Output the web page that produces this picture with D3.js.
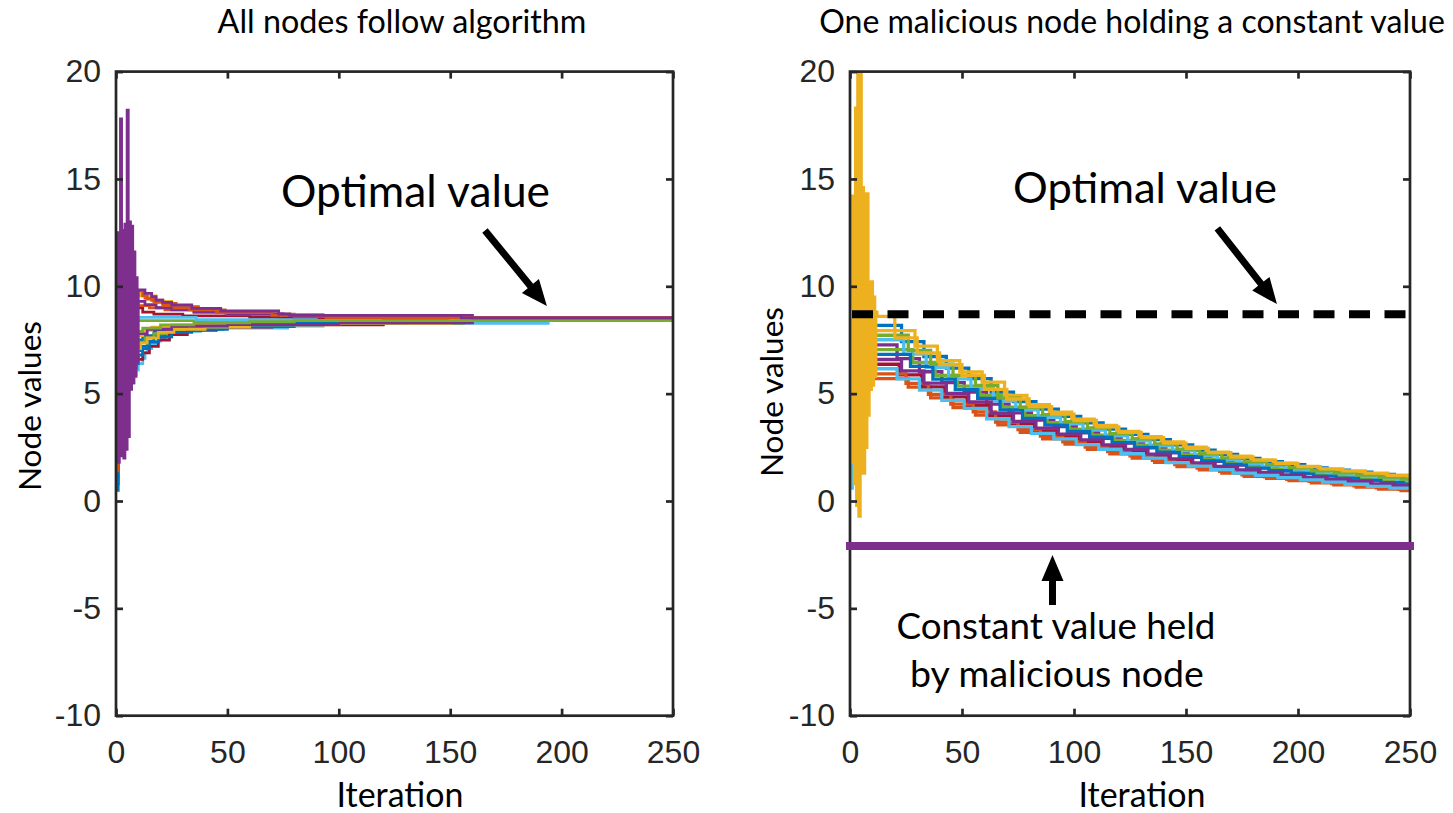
<!DOCTYPE html>
<html>
<head>
<meta charset="utf-8">
<script src="https://cdn.jsdelivr.net/npm/d3@7"></script>
<style>
  body { margin: 0; background: #fff; }
  svg { display: block; }
</style>
</head>
<body>
<svg width="1453" height="813"></svg>
<script>
// MATLAB default colour order, node i gets colorOrder[i % 7]
var colorOrder = ["#0072BD", "#D95319", "#EDB120", "#7E2F8E", "#77AC30", "#4DBEEE", "#A2142F"];
var xTicks = [0, 50, 100, 150, 200, 250];
var yTicks = [-10, -5, 0, 5, 10, 15, 20];
var optimalValue = 8.7;
var maliciousValue = -2.1;

// left panel: stair breakpoints [iteration, value] for each node
var leftNodes = [
  [[0,0.5],[1,7.2],[9,7.5],[12,7.7],[17,7.9],[25,8.05],[40,8.15],[60,8.28],[114,8.4]],
  [[0,1.1],[1,9.6],[13,9.45],[16,9.35],[21,9.2],[27,9.05],[37,8.9],[49,8.75],[60,8.68],[93,8.53]],
  [[0,1.9],[1,9.7],[11,9.55],[18,9.3],[25,9.1],[33,8.95],[45,8.8],[58,8.7],[70,8.65],[142,8.53]],
  [[0,2.3],[0.5,12.5],[1,1.8],[1.5,12.4],[2,17.8],[2.5,2.1],[3,12.6],[3.5,2.0],[4,12.9],[4.5,2.4],[5,18.2],[5.5,3.0],[6,13.0],[6.5,5.2],[7,12.8],[7.5,5.5],[8,11.6],[8.5,5.8],[9,10.4],[9.5,6.5],[10,9.83],[13,9.67],[16,9.52],[18,9.36],[21,9.25],[25,9.13],[34,8.97],[47,8.85],[73,8.71],[78,8.65],[155,8.53]],
  [[0,3.0],[1,8.4],[8,8.4]],
  [[0,3.4],[1,5.9],[9,6.1],[10,6.4],[12,6.65],[13,6.9],[14,7.1],[16,7.3],[18,7.45],[20,7.55],[22,7.65],[25,7.77],[31,7.9],[38,7.98],[48,8.05],[77,8.15],[93,8.28],[194,8.4]],
  [[0,4.2],[1,9.0],[12,8.8],[17,8.7],[30,8.62],[60,8.55],[73,8.53],[93,8.4]],
  [[0,3.8],[1,6.6],[9,7.0],[11,7.2],[14,7.45],[17,7.65],[22,7.85],[30,8.0],[45,8.15],[73,8.28],[114,8.4]],
  [[0,4.8],[1,9.2],[10,9.1],[15,9.0],[22,8.9],[35,8.8],[50,8.7],[80,8.6],[120,8.53]],
  [[0,5.5],[1,7.4],[9,7.7],[12,7.95],[16,8.1],[25,8.2],[42,8.28],[80,8.4]],
  [[0,2.5],[1,9.3],[13,9.15],[18,9.0],[25,8.9],[35,8.8],[50,8.72],[75,8.65],[160,8.53]],
  [[0,2.8],[1,7.0],[10,7.4],[13,7.6],[17,7.8],[23,7.95],[33,8.05],[50,8.15],[77,8.28],[156,8.4]],
  [[0,8.1],[1,8.0],[8,8.55],[36,8.45],[90,8.4]],
  [[0,4.1],[1,6.2],[9,6.6],[12,6.9],[15,7.2],[19,7.5],[24,7.75],[32,7.95],[45,8.1],[70,8.2],[120,8.4]],
  [[0,0.8],[1,5.5],[8,6.4],[10,6.8],[12,7.1],[15,7.4],[19,7.65],[25,7.85],[34,8.0],[50,8.12],[80,8.28],[130,8.4]],
  [[0,1.4],[1,9.8],[12,9.55],[14,9.4],[17,9.25],[21,9.1],[26,9.0],[33,8.9],[45,8.78],[70,8.65],[150,8.53]],
  [[0,6.0],[1,6.8],[8,7.1],[11,7.35],[14,7.6],[19,7.85],[26,8.0],[40,8.1],[60,8.2],[100,8.28],[150,8.4]],
  [[0,2.2],[1,7.6],[9,7.8],[14,8.0],[25,8.15],[50,8.22],[100,8.3],[160,8.4]],
  [[0,7.2],[1,7.8],[8,7.9],[12,8.05],[20,8.2],[35,8.3],[60,8.35],[80,8.4]]
];
var leftSpike = 3;

// right panel: value at iteration 0, update offset, then values every 10 iterations
var bandIters = [10,20,30,40,50,60,70,80,90,100,110,120,130,140,150,160,170,180,190,200,210,220,230,240,250];
var rightInit = [1.2, 10.0, 6.5, 8.3, 3.0, 9.0, 9.5, 4.5, 2.0, 7.5, 3.8, 5.5, 0.6];
var rightPhase = [3, 6, 0, 1, 8, 4, 2, 7, 5, 9, 3, 6, 1];
var rightBand = [
  [8.18,7.42,6.73,6.19,5.70,5.07,4.63,4.28,3.94,3.64,3.35,3.10,2.86,2.61,2.37,2.17,1.98,1.83,1.69,1.54,1.44,1.34,1.24,1.14,1.04],
  [5.70,5.30,4.80,4.35,4.00,3.55,3.20,2.90,2.65,2.40,2.20,2.00,1.80,1.60,1.45,1.30,1.15,1.05,0.95,0.85,0.75,0.65,0.55,0.48,0.40],
  [8.40,7.60,6.90,6.35,5.85,5.20,4.75,4.40,4.05,3.75,3.45,3.20,2.95,2.70,2.45,2.25,2.05,1.90,1.75,1.60,1.50,1.40,1.30,1.20,1.10],
  [7.27,6.63,6.02,5.51,5.07,4.51,4.10,3.77,3.46,3.18,2.92,2.70,2.47,2.24,2.03,1.85,1.67,1.54,1.41,1.28,1.18,1.08,0.98,0.90,0.81],
  [7.05,6.45,5.85,5.35,4.92,4.37,3.97,3.65,3.35,3.07,2.82,2.60,2.37,2.15,1.95,1.77,1.60,1.47,1.35,1.22,1.12,1.02,0.92,0.84,0.75],
  [7.51,6.84,6.21,5.69,5.24,4.66,4.24,3.90,3.59,3.30,3.04,2.80,2.57,2.34,2.12,1.94,1.75,1.62,1.49,1.35,1.25,1.15,1.05,0.96,0.87],
  [6.37,5.87,5.32,4.85,4.46,3.96,3.59,3.27,3.00,2.74,2.51,2.30,2.09,1.87,1.70,1.54,1.37,1.26,1.15,1.04,0.94,0.84,0.74,0.66,0.57],
  [6.83,6.27,5.68,5.19,4.78,4.24,3.85,3.53,3.24,2.97,2.72,2.50,2.28,2.06,1.87,1.70,1.53,1.41,1.29,1.16,1.06,0.96,0.86,0.78,0.69],
  [5.92,5.48,4.97,4.51,4.15,3.68,3.32,3.02,2.76,2.51,2.30,2.10,1.89,1.69,1.53,1.38,1.22,1.12,1.01,0.91,0.81,0.71,0.61,0.54,0.46],
  [7.94,7.21,6.54,6.01,5.54,4.92,4.49,4.14,3.81,3.52,3.24,3.00,2.75,2.51,2.28,2.09,1.90,1.76,1.61,1.47,1.37,1.27,1.17,1.08,0.98],
  [6.59,6.06,5.49,5.01,4.61,4.09,3.71,3.39,3.11,2.85,2.61,2.40,2.18,1.96,1.78,1.61,1.45,1.33,1.21,1.10,1.00,0.90,0.80,0.72,0.63],
  [7.72,7.02,6.37,5.85,5.39,4.79,4.36,4.02,3.70,3.41,3.14,2.90,2.66,2.42,2.20,2.01,1.82,1.69,1.55,1.41,1.31,1.21,1.11,1.02,0.92],
  [6.16,5.69,5.16,4.69,4.31,3.83,3.46,3.15,2.89,2.63,2.41,2.20,2.00,1.79,1.62,1.46,1.30,1.19,1.09,0.98,0.88,0.78,0.68,0.60,0.52]
];
var rightSpike = 2;
var rightSpikeEarly = [[0,6.5],[0.5,14.2],[1,1.8],[1.5,14.2],[2,0.8],[2.5,18.3],[3,-0.2],[3.5,20.6],[4,-0.7],[4.5,20.6],[5,1.3],[5.5,14.6],[6,1.3],[6.5,14.3],[7,2.5],[7.5,14.3],[8,4.0],[8.5,10.2],[9,5.2],[9.5,10.2],[10,5.4],[10.5,9.5],[11,5.8],[11.5,8.8],[12,8.6]];

var svg = d3.select("svg"),
    axTop = 71.6,
    axBottom = 715.7,
    ink = "#262626",
    textFont = "Lato, 'Open Sans', sans-serif";

var xL = d3.scaleLinear().domain([0, 250]).range([116, 673]),
    xR = d3.scaleLinear().domain([0, 250]).range([850, 1410]),
    y = d3.scaleLinear().domain([-10, 20]).range([axBottom, axTop]);

function fitText(sel, width) {
  var w = sel.node().getComputedTextLength();
  var fs = parseFloat(sel.attr("font-size"));
  sel.attr("font-size", fs * width / w);
  return sel;
}

function addText(g, str, x, yy, size, width) {
  var t = g.append("text")
    .attr("x", x).attr("y", yy)
    .attr("text-anchor", "middle")
    .attr("font-family", textFont)
    .attr("font-size", size)
    .attr("fill", "#000")
    .text(str);
  if (width) fitText(t, width);
  return t;
}

function arrow(g, x1, y1, x2, y2) {
  var dx = x2 - x1, dy = y2 - y1, len = Math.sqrt(dx * dx + dy * dy);
  var ux = dx / len, uy = dy / len, px = -uy, py = ux;
  var hl = 26, hw = 11, sw = 3.5;
  var bx = x2 - ux * hl, by = y2 - uy * hl;
  var pts = [
    [x1 + px * sw, y1 + py * sw], [bx + px * sw, by + py * sw], [bx + px * hw, by + py * hw], [x2, y2],
    [bx - px * hw, by - py * hw], [bx - px * sw, by - py * sw], [x1 - px * sw, y1 - py * sw]
  ];
  g.append("path").attr("d", "M" + pts.join("L") + "Z").attr("fill", "#000");
}

function drawAxes(g, x) {
  var fmt = function(d) { return String(d); };
  var styleAxis = function(a) {
    a.select(".domain").remove();
    a.selectAll(".tick line").attr("stroke", ink).attr("stroke-width", 2.7);
    a.selectAll(".tick text").attr("fill", ink)
      .attr("font-family", "'Liberation Sans', Arial, sans-serif")
      .attr("font-size", 32);
  };
  g.append("g").attr("transform", "translate(0," + axBottom + ")")
    .call(d3.axisBottom(x).tickValues(xTicks).tickSizeInner(-7).tickSizeOuter(0).tickPadding(25).tickFormat(fmt))
    .call(styleAxis);
  g.append("g").attr("transform", "translate(0," + axTop + ")")
    .call(d3.axisTop(x).tickValues(xTicks).tickSizeInner(-7).tickSizeOuter(0).tickFormat(""))
    .call(styleAxis);
  g.append("g").attr("transform", "translate(" + x(0) + ",0)")
    .call(d3.axisLeft(y).tickValues(yTicks).tickSizeInner(-7).tickSizeOuter(0).tickPadding(15).tickFormat(fmt))
    .call(styleAxis);
  g.append("g").attr("transform", "translate(" + x(250) + ",0)")
    .call(d3.axisRight(y).tickValues(yTicks).tickSizeInner(-7).tickSizeOuter(0).tickFormat(""))
    .call(styleAxis);
  g.append("rect")
    .attr("x", x(0)).attr("y", axTop)
    .attr("width", x(250) - x(0)).attr("height", axBottom - axTop)
    .attr("fill", "none").attr("stroke", ink).attr("stroke-width", 2.7);
}

function drawNodes(g, x, series, spike, clipId, width) {
  g.append("clipPath").attr("id", clipId).append("rect")
    .attr("x", x(0)).attr("y", axTop)
    .attr("width", x(250) - x(0)).attr("height", axBottom - axTop);
  var line = d3.line()
    .x(function(d) { return x(d[0]); })
    .y(function(d) { return y(d[1]); })
    .curve(d3.curveStepAfter);
  var order = d3.range(series.length).filter(function(i) { return i !== spike; }).concat([spike]);
  var lg = g.append("g").attr("clip-path", "url(#" + clipId + ")");
  order.forEach(function(i) {
    var pts = series[i].slice();
    pts.push([250, pts[pts.length - 1][1]]);
    lg.append("path")
      .attr("d", line(pts))
      .attr("fill", "none")
      .attr("stroke", colorOrder[i % 7])
      .attr("stroke-width", width);
  });
}

// build the right-panel stairs from the sampled values
var rightSeries = rightBand.map(function(vals, i) {
  var pts;
  if (i === rightSpike) {
    pts = rightSpikeEarly.slice();
  } else {
    pts = [[0, rightInit[i]], [1, vals[0]]];
  }
  var lastIt = pts[pts.length - 1][0];
  for (var k = 1; k < vals.length; k++) {
    var it = bandIters[k] + rightPhase[i];
    if (it > lastIt) pts.push([it, vals[k]]);
  }
  return pts;
});

// ---- left panel
var left = svg.append("g");
drawNodes(left, xL, leftNodes, leftSpike, "clipL", 2.8);
drawAxes(left, xL);
addText(left, "All nodes follow algorithm", 402, 33, 32, 369);
addText(left, "Iteration", 400, 807, 36, 127);
addText(left, "Node values", 0, 0, 34, 170)
  .attr("transform", "translate(41,406) rotate(-90)");
addText(left, "Optimal value", 415.5, 206.5, 44, 269);
arrow(left, xL(165.6), y(12.6), xL(193.4), y(9.08));

// ---- right panel
var right = svg.append("g");
drawNodes(right, xR, rightSeries, rightSpike, "clipR", 3.3);
right.append("line")
  .attr("x1", xR(0)).attr("x2", xR(250))
  .attr("y1", y(optimalValue)).attr("y2", y(optimalValue))
  .attr("stroke", "#000").attr("stroke-width", 8)
  .attr("stroke-dasharray", "21,14.5").attr("stroke-dashoffset", -2);
drawAxes(right, xR);
right.append("line")
  .attr("x1", xR(0)).attr("x2", xR(250))
  .attr("y1", y(maliciousValue)).attr("y2", y(maliciousValue))
  .attr("stroke", colorOrder[3]).attr("stroke-width", 8)
  .attr("stroke-linecap", "square");
addText(right, "One malicious node holding a constant value", 1132, 33, 32, 626);
addText(right, "Iteration", 1142, 807, 36, 127);
addText(right, "Node values", 0, 0, 34, 170)
  .attr("transform", "translate(783,392) rotate(-90)");
addText(right, "Optimal value", 1145, 203, 44, 264);
arrow(right, xR(164), y(12.7), xR(190.6), y(9.17));
addText(right, "Constant value held", 1056, 639, 37, 319);
addText(right, "by malicious node", 1057, 687, 37, 294);
arrow(right, xR(90.4), y(-4.84), xR(90.4), y(-2.51));
</script>
</body>
</html>
